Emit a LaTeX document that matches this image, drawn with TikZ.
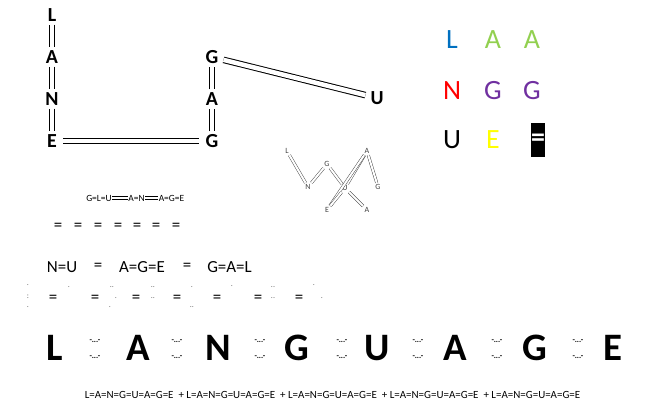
\documentclass[tikz,border=0pt]{standalone}
\usepackage{fontspec}
\setmainfont{Carlito}
\usepackage{tikz}
\usetikzlibrary{positioning}
\definecolor{letterblue}{HTML}{0070C0}
\definecolor{lettergreen}{HTML}{92D050}
\definecolor{letterred}{HTML}{FF0000}
\definecolor{letterpurple}{HTML}{7030A0}
\definecolor{letteryellow}{HTML}{FFFF00}
\tikzset
{
    ladder/.style    = {font=\bfseries\fontsize{20}{20}\selectfont, inner sep=3bp, text height=13bp, text depth=0pt},
    rung/.style      = {double, double distance=4.5bp, line width=1bp},
    gridletter/.style= {font=\fontsize{28}{28}\selectfont, inner sep=0pt},
    tiny/.style      = {font=\fontsize{8}{8}\selectfont, inner sep=1.5bp, text height=5bp, text depth=0pt, text=black!75},
    thinrung/.style  = {double, double distance=2bp, line width=0.45bp, draw=black!75},
    chain/.style     = {font=\fontsize{9.5}{9.5}\selectfont, inner sep=0.5bp, text height=6bp, text depth=0pt},
    chainrung/.style = {double, double distance=2.2bp, line width=0.6bp},
    mideq/.style     = {font=\fontsize{17}{17}\selectfont, inner sep=0pt},
    speck/.style     = {font=\fontsize{8}{8}\selectfont, inner sep=0pt, text=black!60},
    bigletter/.style = {font=\bfseries\fontsize{39}{39}\selectfont, inner sep=0pt},
    tick/.style      = {font=\bfseries\fontsize{8}{8}\selectfont, inner sep=0pt},
    foot/.style      = {font=\fontsize{11}{11}\selectfont, inner sep=0pt}
}
\begin{document}
\begin{tikzpicture}[x=1bp, y=-1bp]
    \useasboundingbox (0,0) rectangle (660,417);

    % ladder
    \node [ladder] (l1) at (52,15)  {L};
    \node [ladder] (a1) at (52,57)  {A};
    \node [ladder] (n1) at (52,99)  {N};
    \node [ladder] (e1) at (52,141) {E};
    \node [ladder] (g1) at (212,57)  {G};
    \node [ladder] (a2) at (212,99)  {A};
    \node [ladder] (g2) at (212,141) {G};
    \node [ladder] (u1) at (377,98)  {U};
    \draw [rung] (l1) -- (a1);
    \draw [rung] (a1) -- (n1);
    \draw [rung] (n1) -- (e1);
    \draw [rung, shorten <=3bp, shorten >=3bp] (e1) -- (g2);
    \draw [rung] (g2) -- (a2);
    \draw [rung] (a2) -- (g1);
    \draw [rung, shorten <=2bp, shorten >=2bp] (g1) -- (u1);

    % coloured letters
    \node [gridletter, text=letterblue]   (cl) at (452,40)  {L};
    \node [gridletter, text=lettergreen]  (ca) at (493,40)  {A};
    \node [gridletter, text=lettergreen]  (cb) at (532,40)  {A};
    \node [gridletter, text=letterred]    (cn) at (452,91)  {N};
    \node [gridletter, text=letterpurple] (cg) at (493,91)  {G};
    \node [gridletter, text=letterpurple] (ch) at (532,91)  {G};
    \node [gridletter]                    (cu) at (452,140) {U};
    \node [gridletter, text=letteryellow] (ce) at (493,140) {E};
    \node [fill=black, text=white, minimum width=14bp, minimum height=34bp, inner sep=0pt,
           font=\bfseries\fontsize{28}{28}\selectfont] (box) at (538,140) {=};

    % small web
    \node [tiny] (sl)  at (287,151) {L};
    \node [tiny] (sn)  at (308,187) {N};
    \node [tiny] (sg)  at (327,164) {G};
    \node [tiny] (su)  at (345,188) {U};
    \node [tiny] (sa)  at (367,151) {A};
    \node [tiny] (sg2) at (378,187) {G};
    \node [tiny] (se)  at (327,210) {E};
    \node [tiny] (sa2) at (367,210) {A};
    \draw [thinrung] (sl) -- (sn);
    \draw [thinrung] (sn) -- (sg);
    \draw [thinrung] (sg) -- (su);
    \draw [thinrung] (su) -- (sa2);
    \draw [thinrung] (sa) -- (su);
    \draw [thinrung] (sa) -- (se);
    \draw [thinrung] (sa) -- (sg2);
    \draw [thinrung] (se) -- (su);

    % chain
    \node [chain] (k1) at (99,198)  {G=L=U};
    \node [chain] (k2) at (136.5,198) {A=N};
    \node [chain] (k3) at (171.5,198) {A=G=E};
    \draw [chainrung] (k1) -- (k2);
    \draw [chainrung] (k2) -- (k3);

    % row of signs
    \foreach \xx [count=\i] in {58,78,98,118,137,156,176}
        \node [mideq] (q\i) at (\xx,227) {=};

    \node [mideq] (m1) at (62,267)    {N=U};
    \node [mideq] (m2) at (98,267)    {=};
    \node [mideq] (m3) at (142,267)   {A=G=E};
    \node [mideq] (m4) at (187,267)   {=};
    \node [mideq] (m5) at (229.5,267) {G=A=L};

    % signs with specks
    \foreach \xx [count=\i] in {53,95,136,177,217,258,299}
        \node [mideq] (r\i) at (\xx,299) {=};
    \foreach \xx/\yy/\tt [count=\i] in {28/285/., 28/297/:, 28/307/., 69/287/., 112/287/.., 116/298/., 110/307/.,
        153/287/.., 153/298/.., 192/287/., 192/307/.., 232/286/., 273/287/.., 273/298/.., 314/285/., 322/298/.}
        \node [speck] (p\i) at (\xx,\yy) {\tt};

    % big word
    \foreach \ch/\xx [count=\i] in {L/55, A/138, N/218, G/297, U/377, A/455, G/535, E/613}
        \node [bigletter] (w\i) at (\xx,348) {\ch};
    \foreach \xx [count=\i] in {95,177,260,342,418,497,578}
    {
        \node [tick] (dt\i) at (\xx,341) {-...-};
        \node [tick] (db\i) at (\xx,357) {-...-};
    }

    \node [foot] (sum) at (332.5,395) {L=A=N=G=U=A=G=E \ + L=A=N=G=U=A=G=E \ + L=A=N=G=U=A=G=E \ + L=A=N=G=U=A=G=E \ + L=A=N=G=U=A=G=E};
\end{tikzpicture}
\end{document}
